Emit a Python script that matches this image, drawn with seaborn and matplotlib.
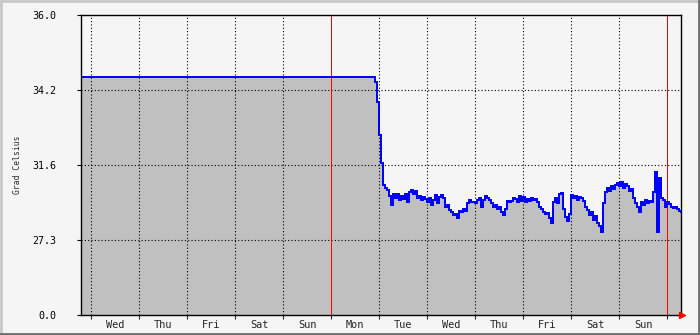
import numpy as np
import pandas as pd
import matplotlib
matplotlib.use("Agg")
import matplotlib.pyplot as plt
import seaborn as sns
from matplotlib.lines import Line2D

# ---------------- data ----------------
day_labels = ["Wed", "Thu", "Fri", "Sat", "Sun", "Mon", "Tue",
              "Wed", "Thu", "Fri", "Sat", "Sun"]
y_tick_labels = ["0.0", "27.3", "31.6", "34.2", "36.0"]

# flat part (hour 0 .. 146)
flat_hours = [0]
flat_temp = [34.55]

# hourly readings from hour 146 to 300
hours = list(range(146, 301))
temp = [
    34.55, 34.40, 33.85, 32.80, 31.75, 30.75, 30.60, 30.50, 30.20, 29.70,
    30.30, 30.10, 30.30, 30.00, 30.20, 30.05, 30.30, 29.90, 30.40, 30.50,
    30.30, 30.45, 30.10, 30.20, 30.00, 30.15, 30.05, 29.90, 30.10, 29.70,
    30.00, 30.25, 29.80, 30.15, 30.25, 30.10, 29.60, 29.70, 29.40, 29.30,
    29.10, 29.20, 28.95, 29.35, 29.30, 29.45, 29.35, 29.80, 30.00, 29.85,
    29.90, 29.80, 30.00, 30.10, 29.60, 30.00, 30.20, 30.10, 30.00, 29.80,
    29.60, 29.70, 29.50, 29.60, 29.30, 29.10, 29.50, 29.95, 29.85, 29.95,
    30.10, 30.05, 29.90, 30.20, 29.95, 30.15, 29.90, 30.05, 29.95, 30.10,
    30.00, 30.05, 29.85, 29.60, 29.45, 29.30, 29.20, 29.25, 28.90, 28.60,
    29.90, 30.10, 29.80, 30.30, 30.35, 29.50, 29.00, 28.75, 29.20, 30.25,
    30.10, 30.20, 30.00, 30.15, 30.10, 29.95, 29.60, 29.40, 29.10, 29.30,
    28.80, 29.05, 28.60, 28.35, 27.95, 29.80, 30.40, 30.60, 30.45, 30.70,
    30.55, 30.75, 30.85, 30.70, 30.90, 30.60, 30.80, 30.70, 30.45, 30.55,
    30.10, 29.80, 29.60, 29.30, 29.90, 29.70, 30.00, 29.80, 29.95, 29.90,
    30.40, 31.35, 27.95, 31.10, 30.10, 30.00, 29.60, 29.85, 29.75, 29.60,
    29.55, 29.60, 29.45, 29.35, 29.30,
]

df = pd.DataFrame({"hour": flat_hours + hours, "temp": flat_temp + temp})

# ---------------- scale (MRTG log-like) ----------------
VMAX = 36.0
K = 300.0
LN = np.log(1 + K)


def fwd(v):
    v = np.asarray(v, dtype=float)
    return (np.exp(v / VMAX * LN) - 1) / K


def inv(f):
    f = np.asarray(f, dtype=float)
    return VMAX * np.log(np.clip(1 + K * f, 1e-9, None)) / LN


# ---------------- figure ----------------
sns.set_style("white")
plt.rcParams["font.family"] = ["DejaVu Sans Mono", "DejaVu Sans"]

W, H = 700, 335
fig = plt.figure(figsize=(W / 100, H / 100), dpi=100, facecolor="#F5F5F5")
ax = fig.add_axes([81 / W, (H - 315) / H, 600 / W, 300 / H])
ax.set_facecolor("#F5F5F5")

ax.set_yscale("function", functions=(fwd, inv))
ax.set_ylim(0, VMAX)
ax.set_xlim(0, 300)

# fill + line
ax.fill_between(df["hour"], df["temp"], 0, step="post", color="#C0C0C0",
                lw=0, zorder=1)
sns.lineplot(data=df, x="hour", y="temp", ax=ax, color="#0000FF",
             drawstyle="steps-post", lw=1.44, estimator=None, zorder=4,
             antialiased=False)
ax.set_xlabel("")
ax.set_ylabel("")

# y ticks at quarter positions of the scale
y_ticks = inv(np.array([0, 0.25, 0.5, 0.75, 1.0]))
ax.set_yticks(y_ticks)
ax.set_yticklabels(y_tick_labels)
ax.yaxis.set_minor_locator(matplotlib.ticker.NullLocator())

# x ticks: midnights (major, no label) and noon (minor, labels)
midnights = [5 + 24 * i for i in range(13)]
noons = [17 + 24 * i for i in range(12)]
ax.set_xticks(midnights)
ax.set_xticklabels([""] * len(midnights))
ax.set_xticks(noons, minor=True)
ax.set_xticklabels(day_labels, minor=True)

ax.tick_params(axis="y", which="major", length=3, width=0.8, pad=15,
               labelsize=7.2, colors="black", direction="out", left=True)
ax.tick_params(axis="x", which="major", length=3, width=0.8, direction="out",
               bottom=True)
ax.tick_params(axis="x", which="minor", length=0, pad=3.5, labelsize=7.4,
               bottom=True)

# grid
dot = (0, (1, 2))
for yt in y_ticks[1:-1]:
    ax.axhline(yt, color="black", lw=0.8, ls=dot, zorder=2)
week_lines = [125, 293]
for m in midnights:
    if m in week_lines:
        ax.axvline(m, color="#FF0000", lw=0.72, zorder=3, antialiased=False)
    else:
        ax.axvline(m, color="black", lw=0.8, ls=dot, zorder=2)

for s in ax.spines.values():
    s.set_visible(True)
    s.set_color("black")
    s.set_linewidth(1.0)
    s.set_zorder(5)

# red arrow at end of x axis
ax.plot([300.5], [0], marker=">", color="#FF0000", markersize=5,
        clip_on=False, zorder=6)

# y label
fig.text(17 / W, (H - 165) / H, "Grad Celsius", rotation=90, ha="center",
         va="center", fontsize=5.8)

# 3D frame
def fline(x0, y0, x1, y1, c, lw):
    fig.add_artist(Line2D([x0 / W, x1 / W], [1 - y0 / H, 1 - y1 / H],
                          color=c, lw=lw, transform=fig.transFigure))

fline(0, 1, W, 1, "#C8C8C8", 2)
fline(1, 0, 1, H, "#C8C8C8", 2)
fline(0, H - 1, W, H - 1, "#6E6E6E", 2)
fline(W - 1, 0, W - 1, H, "#6E6E6E", 2)

fig.savefig("out.png", dpi=100, facecolor=fig.get_facecolor())
